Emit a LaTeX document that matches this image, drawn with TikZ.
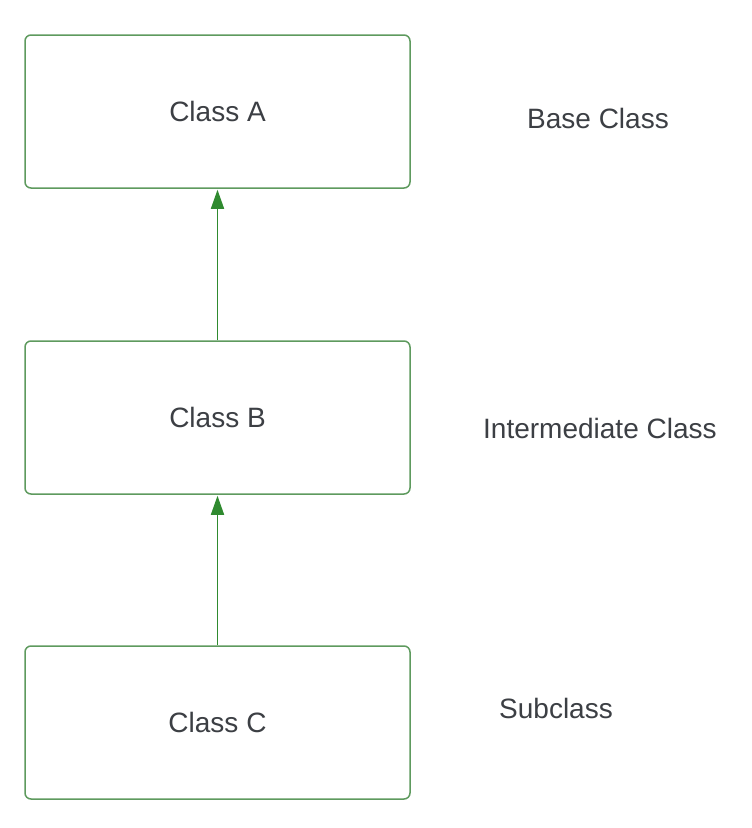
\documentclass[tikz,border=0pt]{standalone}
\usepackage{fontspec}
\setmainfont{Liberation Sans}
\usetikzlibrary{arrows.meta}
\definecolor{boxgreen}{HTML}{5E9A5E}
\definecolor{arrgreen}{HTML}{2F8A2F}
\definecolor{txt}{HTML}{3C3F44}
\begin{document}
\begin{tikzpicture}[x=1pt,y=-1pt,
  classbox/.style={draw=boxgreen, line width=1.5pt, rounded corners=6pt, minimum width=385pt, minimum height=153pt, inner sep=0pt, text=txt, font=\fontsize{28}{32}\selectfont},
  sidelabel/.style={anchor=west, inner sep=0pt, text=txt, font=\fontsize{28}{32}\selectfont},
  inherit/.style={draw=arrgreen, line width=1.6pt, -{Triangle[length=19pt,width=13pt]}, shorten >=1pt}]
\useasboundingbox (0,0) rectangle (752,828);
\fill[white] (0,0) rectangle (752,828);
\node[classbox] (A) at (217.5,111.5) {Class A};
\node[classbox] (B) at (217.5,417.5) {Class B};
\node[classbox] (C) at (217.5,722.5) {Class C};
\node[sidelabel] (la) at (527,118) {Base Class};
\node[sidelabel] (lb) at (483,428) {Intermediate Class};
\node[sidelabel] (lc) at (499,708) {Subclass};
\draw[inherit] (B.north) -- (A.south);
\draw[inherit] (C.north) -- (B.south);
\end{tikzpicture}
\end{document}
